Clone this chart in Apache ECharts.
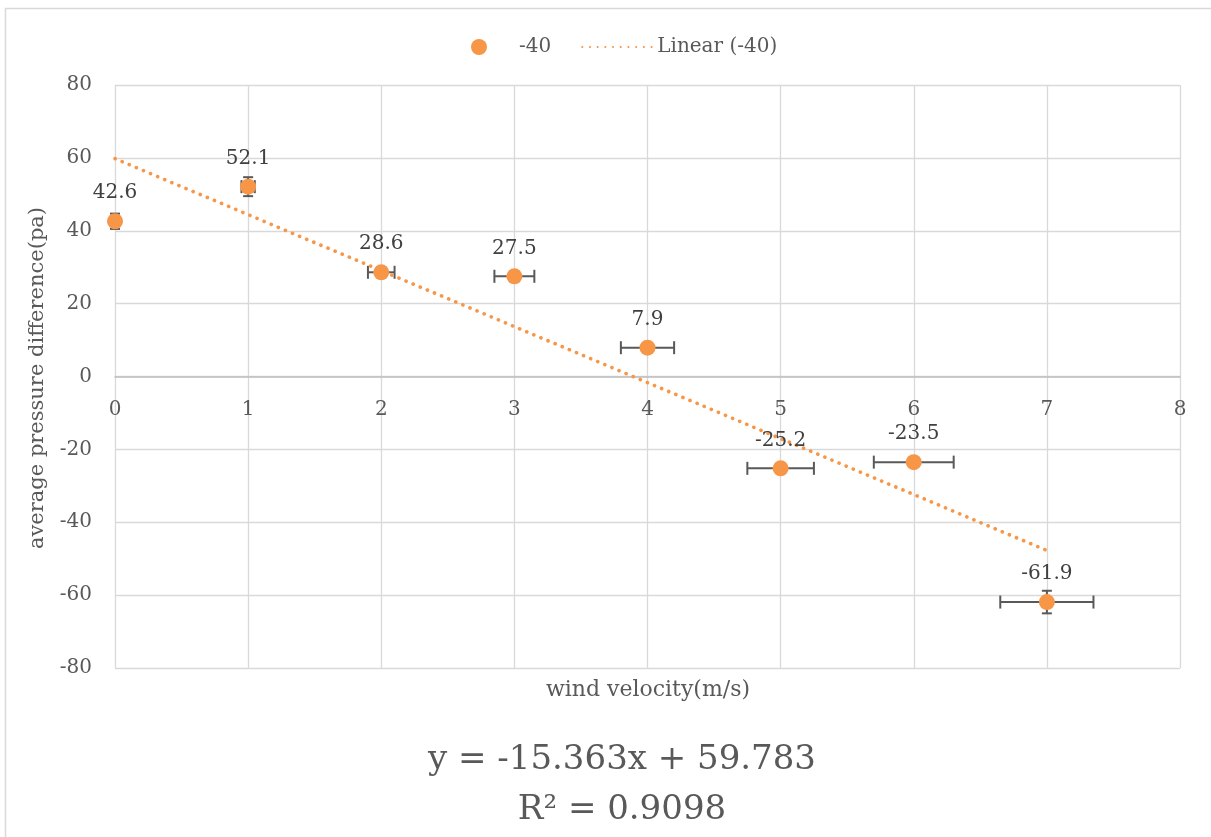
<!DOCTYPE html>
<html>
<head>
<meta charset="utf-8">
<script src="https://cdn.jsdelivr.net/npm/echarts@6/dist/echarts.min.js"></script>
<style>
html,body{margin:0;padding:0;background:#fff;}
#chart{width:1211px;height:837px;}
</style>
</head>
<body>
<div id="chart"></div>
<script>
// Data
const windVelocity = [0, 1, 2, 3, 4, 5, 6, 7];
const pressureDiff = [42.6, 52.1, 28.6, 27.5, 7.9, -25.2, -23.5, -61.9];
const xError = [0, 0.05, 0.1, 0.15, 0.2, 0.25, 0.3, 0.35];
const yError = [2.1, 2.6, 1.4, 1.4, 0.4, 1.3, 1.2, 3.1];
const trendX = [0, 7];
const trendY = [59.783, -47.758];
const xTicks = [0, 1, 2, 3, 4, 5, 6, 7, 8];
const yTicks = [-80, -60, -40, -20, 0, 20, 40, 60, 80];
const seriesName = '-40';
const trendName = 'Linear (-40)';
const equationText = 'y = -15.363x + 59.783';
const r2Text = 'R² = 0.9098';

const FONT = 'DejaVu Serif';
const ORANGE = '#F79646';

const scatterData = windVelocity.map((x, i) => [x, pressureDiff[i]]);
const errData = windVelocity.map((x, i) => [x, pressureDiff[i], xError[i], yError[i]]);
const trendData = trendX.map((x, i) => [x, trendY[i]]);

const GRID_TOP = 85, GRID_BOTTOM = 169, CHART_H = 837;
const plotH = CHART_H - GRID_TOP - GRID_BOTTOM;
const yMin = yTicks[0], yMax = yTicks[yTicks.length - 1];
// move the x axis from the bottom edge up to the y = 0 line
const zeroOffset = -plotH * (0 - yMin) / (yMax - yMin);

const chart = echarts.init(document.getElementById('chart'));
chart.setOption({
  animation: false,
  backgroundColor: '#fff',
  textStyle: { fontFamily: FONT },
  grid: { left: 115, right: 31, top: GRID_TOP, bottom: GRID_BOTTOM, containLabel: false },
  legend: {
    data: [seriesName, { name: trendName, itemStyle: { opacity: 0 } }],
    left: 466, top: 32,
    itemWidth: 70, itemHeight: 16, itemGap: 30,
    textStyle: { fontFamily: FONT, fontSize: 20, color: '#595959' }
  },
  xAxis: {
    type: 'value', min: xTicks[0], max: xTicks[xTicks.length - 1], interval: 1,
    position: 'bottom', offset: zeroOffset,
    axisLine: { show: true, onZero: false, lineStyle: { color: '#bfbfbf', width: 1.5 } },
    axisTick: { show: false },
    axisLabel: { margin: 23, fontFamily: FONT, fontSize: 20, color: '#595959' },
    splitLine: { show: true, lineStyle: { color: '#d9d9d9', width: 1.3 } }
  },
  yAxis: {
    type: 'value', min: yMin, max: yMax, interval: 20,
    axisLine: { show: false },
    axisTick: { show: false },
    axisLabel: { margin: 23, fontFamily: FONT, fontSize: 20, color: '#595959' },
    splitLine: { show: true, lineStyle: { color: '#d9d9d9', width: 1.3 } }
  },
  graphic: [
    { type: 'rect', left: 3, top: 6, shape: { width: 1240, height: 880 }, style: { fill: 'none', stroke: '#d9d9d9', lineWidth: 1.5 }, z: -10, silent: true },
    { type: 'text', x: 38, y: 378, rotation: Math.PI / 2,
      style: { text: 'average pressure difference(pa)', fontFamily: FONT, fontSize: 21, fill: '#595959', align: 'center', verticalAlign: 'middle' } },
    { type: 'text', x: 648, y: 690,
      style: { text: 'wind velocity(m/s)', fontFamily: FONT, fontSize: 22, fill: '#595959', align: 'center', verticalAlign: 'middle' } },
    { type: 'text', x: 622, y: 760,
      style: { text: equationText, fontFamily: FONT, fontSize: 34, fill: '#595959', align: 'center', verticalAlign: 'middle' } },
    { type: 'text', x: 622, y: 810,
      style: { text: r2Text, fontFamily: FONT, fontSize: 34, fill: '#595959', align: 'center', verticalAlign: 'middle' } }
  ],
  series: [
    {
      name: 'errorbars', type: 'custom', z: 2, silent: true,
      encode: { x: 0, y: 1 },
      data: errData,
      renderItem: function (params, api) {
        const x = api.value(0), y = api.value(1), ex = api.value(2), ey = api.value(3);
        const children = [];
        const st = { stroke: '#595959', lineWidth: 2 };
        if (ex > 0) {
          const a = api.coord([x - ex, y]), b = api.coord([x + ex, y]);
          children.push({ type: 'line', shape: { x1: a[0], y1: a[1], x2: b[0], y2: b[1] }, style: st });
          children.push({ type: 'line', shape: { x1: a[0], y1: a[1] - 6.5, x2: a[0], y2: a[1] + 6.5 }, style: st });
          children.push({ type: 'line', shape: { x1: b[0], y1: b[1] - 6.5, x2: b[0], y2: b[1] + 6.5 }, style: st });
        }
        if (ey > 0) {
          const a = api.coord([x, y - ey]), b = api.coord([x, y + ey]);
          children.push({ type: 'line', shape: { x1: a[0], y1: a[1], x2: b[0], y2: b[1] }, style: st });
          children.push({ type: 'line', shape: { x1: a[0] - 5, y1: a[1], x2: a[0] + 5, y2: a[1] }, style: st });
          children.push({ type: 'line', shape: { x1: b[0] - 5, y1: b[1], x2: b[0] + 5, y2: b[1] }, style: st });
        }
        return { type: 'group', children: children };
      }
    },
    {
      name: trendName, type: 'line', z: 3,
      data: trendData, showSymbol: false, symbol: 'none',
      lineStyle: { color: ORANGE, width: 3.6, type: [0.1, 7.6], cap: 'round' },
      itemStyle: { color: ORANGE }
    },
    {
      name: seriesName, type: 'scatter', z: 4,
      data: scatterData, symbol: 'circle', symbolSize: 16,
      itemStyle: { color: ORANGE, opacity: 1 },
      label: {
        show: true, position: 'top', distance: 10,
        fontFamily: FONT, fontSize: 20, color: '#404040',
        formatter: p => String(p.value[1])
      }
    }
  ]
});
</script>
</body>
</html>
